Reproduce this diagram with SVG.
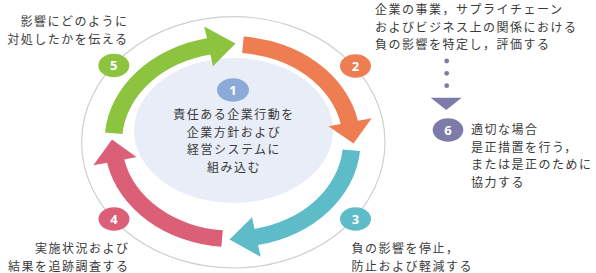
<svg xmlns="http://www.w3.org/2000/svg" width="596" height="273" viewBox="0 0 596 273">
<style>
.t{font-family:"Noto Sans CJK JP","Noto Sans",sans-serif;font-size:12px;letter-spacing:1.5px;fill:#3a3a3a}
.n{font-family:"Open Sans","Noto Sans",sans-serif;font-size:13px;font-weight:bold;fill:#ffffff;text-anchor:middle}
.e{text-anchor:end}
.m{text-anchor:middle}
</style>
<rect width="596" height="273" fill="#ffffff"/>
<ellipse cx="233.3" cy="142.3" rx="151.7" ry="125.7" fill="none" stroke="#cfcfcf" stroke-width="1.2"/>
<g id="node1">
<ellipse cx="233.5" cy="130.5" rx="99.5" ry="72.5" fill="#e8edf8"/>
<ellipse cx="233" cy="90" rx="16" ry="11.7" fill="#8baad8"/>
<text class="n" x="233" y="94.5">1</text>
<text class="t m" x="234" y="119">責任ある企業行動を</text>
<text class="t m" x="234" y="136.5">企業方針および</text>
<text class="t m" x="234" y="154">経営システムに</text>
<text class="t m" x="234" y="171.5">組み込む</text>
</g>
<g id="connectors">
<path id="arrow5" fill="#8cc43f" d="M104.99,132.50 A128,105.5 0 0 1 206.98,38.32 L204.19,26.56 L235.5,43.5 L212.96,66.25 L210.47,54.49 A110.5,89 0 0 0 122.42,133.94 Z"/>
<path id="arrow2" fill="#ef7d52" d="M243.66,36.60 A128,105.5 0 0 1 357.93,120.67 L371.65,118.27 L353.5,143.4 L328.53,126.35 L340.78,123.96 A110.5,89 0 0 0 242.13,53.04 Z"/>
<path id="arrow3" fill="#5dbcc8" d="M360.01,150.90 A128,105.5 0 0 1 258.02,245.08 L260.81,256.84 L229.5,239.5 L252.04,217.15 L254.53,228.91 A110.5,89 0 0 0 342.58,149.46 Z"/>
<path id="arrow4" fill="#dc5f78" d="M221.34,246.80 A128,105.5 0 0 1 107.07,162.73 L93.35,165.13 L112,139.5 L136.47,157.05 L124.22,159.44 A110.5,89 0 0 0 222.87,230.36 Z"/>
<g fill="#7c7baa">
<circle cx="446.7" cy="61" r="2.4"/>
<circle cx="446.7" cy="73.3" r="2.4"/>
<circle cx="446.7" cy="85.7" r="2.4"/>
<path d="M430.7,97.7 L461.7,97.7 L446.2,110 Z"/>
</g>
</g>
<g id="node2">
<ellipse cx="355.5" cy="66" rx="15.5" ry="11.7" fill="#ef7d52"/>
<text class="n" x="355.5" y="70.5">2</text>
<text class="t" x="375" y="14.2">企業の事業，サプライチェーン</text>
<text class="t" x="375" y="31.6">およびビジネス上の関係における</text>
<text class="t" x="375" y="49">負の影響を特定し，評価する</text>
</g>
<g id="node3">
<ellipse cx="355.5" cy="219" rx="15.5" ry="11.7" fill="#5dbcc8"/>
<text class="n" x="355.5" y="223.5">3</text>
<text class="t" x="351.5" y="253">負の影響を停止，</text>
<text class="t" x="351.5" y="270.5">防止および軽減する</text>
</g>
<g id="node4">
<ellipse cx="114" cy="219" rx="15.5" ry="11.7" fill="#dc5f78"/>
<text class="n" x="114" y="223.5">4</text>
<text class="t e" x="129.5" y="253">実施状況および</text>
<text class="t e" x="129.5" y="270.5">結果を追跡調査する</text>
</g>
<g id="node5">
<ellipse cx="113.8" cy="65.5" rx="15.5" ry="11.7" fill="#8cc43f"/>
<text class="n" x="113.8" y="70">5</text>
<text class="t e" x="128.5" y="26">影響にどのように</text>
<text class="t e" x="128.5" y="43.5">対処したかを伝える</text>
</g>
<g id="node6">
<ellipse cx="448" cy="130" rx="15.3" ry="11.7" fill="#7c7baa"/>
<text class="n" x="448" y="134.5">6</text>
<text class="t" x="471" y="134">適切な場合</text>
<text class="t" x="471" y="151.5">是正措置を行う，</text>
<text class="t" x="471" y="169">または是正のために</text>
<text class="t" x="471" y="186.5">協力する</text>
</g>
</svg>
